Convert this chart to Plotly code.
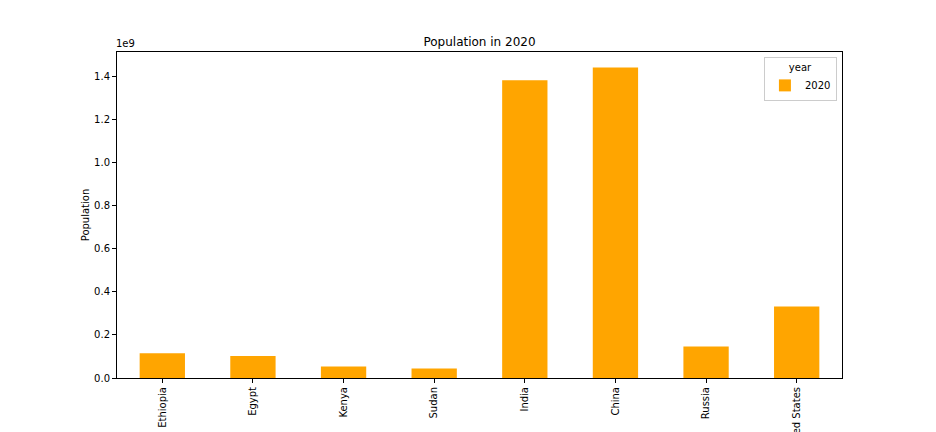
import plotly.graph_objects as go

countries = ["Ethiopia", "Egypt", "Kenya", "Sudan", "India", "China", "Russia", "United States"]
population_2020 = [114963588, 102334404, 53771296, 43849260, 1380004385, 1439323776, 145934462, 331002651]
ytick_vals = [0, 0.2e9, 0.4e9, 0.6e9, 0.8e9, 1.0e9, 1.2e9, 1.4e9]
ytick_text = ["0.0", "0.2", "0.4", "0.6", "0.8", "1.0", "1.2", "1.4"]

font = "DejaVu Sans"

fig = go.Figure()
fig.add_trace(go.Bar(
    x=countries, y=population_2020, name="2020",
    marker=dict(color="orange", line=dict(width=0)),
    width=0.5,
))

fig.update_layout(
    width=936, height=432,
    margin=dict(l=117, r=94, t=52, b=54, autoexpand=False),
    paper_bgcolor="white", plot_bgcolor="white",
    font=dict(family=font, size=10, color="black"),
    title=dict(text="Population in 2020", x=(117 + 842) / 2 / 936, xanchor="center",
               y=1 - 42 / 432, yanchor="middle", font=dict(size=12, family=font, color="black")),
    showlegend=True,
    legend=dict(
        title=dict(text="year", side="top center", font=dict(size=10)),
        x=0.993, y=0.985, xanchor="right", yanchor="top",
        bordercolor="#cccccc", borderwidth=1, bgcolor="rgba(255,255,255,0.8)",
        font=dict(size=10), itemwidth=30, tracegroupgap=0,
    ),
    bargap=0.5,
)

fig.update_xaxes(
    type="category", range=[-0.5, 7.5],
    showline=True, linecolor="black", linewidth=1, mirror=True,
    ticks="outside", ticklen=4, tickcolor="black", tickangle=-90,
    showgrid=False, zeroline=False, automargin=False,
    tickfont=dict(size=10, family=font),
)
fig.update_yaxes(
    range=[0, 1439323776 * 1.05],
    tickvals=ytick_vals, ticktext=ytick_text,
    showline=True, linecolor="black", linewidth=1, mirror=True,
    ticks="outside", ticklen=4, tickcolor="black",
    showgrid=False, zeroline=False, automargin=False,
    title=dict(text="Population", font=dict(size=10, family=font), standoff=2),
    tickfont=dict(size=10, family=font),
)

fig.add_annotation(text="1e9", xref="paper", yref="paper", x=0, y=1,
                   xanchor="left", yanchor="bottom", showarrow=False,
                   font=dict(size=10, family=font), yshift=1, xshift=-3)

fig.write_html("out.html", config={"displayModeBar": False},
               post_script="document.body.style.margin='0';document.body.style.overflow='hidden';")
